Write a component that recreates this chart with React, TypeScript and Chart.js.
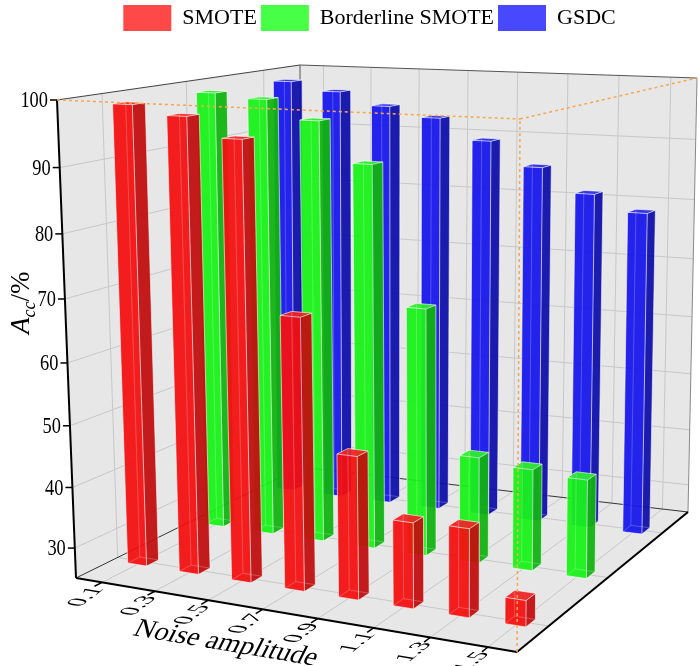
import React, { useEffect, useRef } from 'react';
import { Chart, registerables } from 'chart.js';

Chart.register(...registerables);

// ---------------- data ----------------
const categories = ['0.1', '0.3', '0.5', '0.7', '0.9', '1.1', '1.3', '1.5'];
const smoteValues = [98.7, 97.3, 94.3, 68.3, 47.8, 38.6, 38.9, 29.1];
const borderlineValues = [98.5, 97.8, 94.8, 88.4, 66.1, 42.7, 41.8, 41.2];
const gsdcValues = [98.4, 97.0, 94.9, 93.3, 89.9, 86.0, 82.1, 79.5];
const seriesLabels = ['SMOTE', 'Borderline SMOTE', 'GSDC'];
const yTickValues = [30, 40, 50, 60, 70, 80, 90, 100];
const Y_MIN = 25;
const Y_MAX = 100;
const xTitle = 'Noise amplitude';

// ---------------- styles / layout ----------------
const legendColors = ['rgb(255,72,72)', 'rgb(72,255,72)', 'rgb(72,72,255)'];
const faceColors = [
  { front: 'rgb(244,16,16)', side: 'rgb(192,14,14)', top: 'rgb(238,36,36)' },
  { front: 'rgb(24,242,24)', side: 'rgb(16,178,16)', top: 'rgb(44,238,44)' },
  { front: 'rgb(22,22,236)', side: 'rgb(14,14,170)', top: 'rgb(44,44,230)' },
];
const WALL = 'rgb(231,231,231)';
const GRID = 'rgb(200,200,200)';
const ORANGE = 'rgb(246,168,76)';
const SERIF = '"Liberation Serif", "Times New Roman", serif';

// projected corners of the plotting box: floor (value = min) and ceiling (value = max)
const BOX_BOTTOM = { fl: [76, 578], fr: [517, 652], bl: [301, 467], br: [688, 512] };
const BOX_TOP = { fl: [57, 100], fr: [520, 119], bl: [300, 65], br: [697, 78] };
const K_U = 1.06;
const K_V = 0.88;
const K_W = 1.07;
const BAR_DEPTH = 0.05;
const X_LABEL_ANGLE = -0.66;

type Pt = { x: number; y: number };

function warp(s: number, k: number) {
  return s / (s + (1 - s) * k);
}
function bilerp(q: any, u: number, v: number): Pt {
  const a = (1 - u) * (1 - v), b = u * (1 - v), c = (1 - u) * v, d = u * v;
  return {
    x: a * q.fl[0] + b * q.fr[0] + c * q.bl[0] + d * q.br[0],
    y: a * q.fl[1] + b * q.fr[1] + c * q.bl[1] + d * q.br[1],
  };
}
function project(u: number, v: number, w: number): Pt {
  const su = warp(u, K_U), sv = warp(v, K_V), sw = warp(w, K_W);
  const b = bilerp(BOX_BOTTOM, su, sv);
  const t = bilerp(BOX_TOP, su, sv);
  return { x: b.x + (t.x - b.x) * sw, y: b.y + (t.y - b.y) * sw };
}
function norm(a: Pt, b: Pt): Pt {
  const dx = b.x - a.x, dy = b.y - a.y;
  const l = Math.hypot(dx, dy) || 1;
  return { x: dx / l, y: dy / l };
}

function fillPoly(ctx: CanvasRenderingContext2D, pts: Pt[], color: string) {
  ctx.beginPath();
  pts.forEach((p, i) => (i ? ctx.lineTo(p.x, p.y) : ctx.moveTo(p.x, p.y)));
  ctx.closePath();
  ctx.fillStyle = color;
  ctx.fill();
}
function strokeLine(ctx: CanvasRenderingContext2D, a: Pt, b: Pt, color: string, lw = 1, dash: number[] = []) {
  ctx.beginPath();
  ctx.setLineDash(dash);
  ctx.moveTo(a.x, a.y);
  ctx.lineTo(b.x, b.y);
  ctx.strokeStyle = color;
  ctx.lineWidth = lw;
  ctx.stroke();
  ctx.setLineDash([]);
}

function drawBar(ctx: CanvasRenderingContext2D, u0: number, u1: number, v0: number, v1: number, w: number, col: any) {
  const a0 = project(u0, v0, 0), b0 = project(u1, v0, 0), c0 = project(u1, v1, 0), d0 = project(u0, v1, 0);
  const a1 = project(u0, v0, w), b1 = project(u1, v0, w), c1 = project(u1, v1, w), d1 = project(u0, v1, w);
  ctx.globalAlpha = 0.94;
  fillPoly(ctx, [a0, b0, b1, a1], col.front);
  fillPoly(ctx, [b0, c0, c1, b1], col.side);
  fillPoly(ctx, [a1, b1, c1, d1], col.top);
  ctx.globalAlpha = 1;
  const hid = 'rgba(255,255,255,0.22)';
  strokeLine(ctx, d0, d1, hid, 1);
  strokeLine(ctx, a0, d0, hid, 1);
  strokeLine(ctx, d0, c0, hid, 1);
  const vis = 'rgba(255,255,255,0.6)';
  strokeLine(ctx, a0, b0, vis, 1);
  strokeLine(ctx, b0, c0, vis, 1);
  strokeLine(ctx, a0, a1, vis, 1);
  strokeLine(ctx, b0, b1, vis, 1);
  strokeLine(ctx, c0, c1, vis, 1);
  strokeLine(ctx, a1, b1, vis, 1);
  strokeLine(ctx, b1, c1, vis, 1);
  strokeLine(ctx, c1, d1, vis, 1);
  strokeLine(ctx, d1, a1, vis, 1);
}

const scenePlugin = {
  id: 'scene3d',
  beforeDatasetsDraw(chart: any) {
    const ctx = chart.ctx as CanvasRenderingContext2D;
    const area = chart.chartArea;
    const xs = chart.scales.x;
    const ys = chart.scales.y;
    const span = ys.bottom - ys.top;
    const wOf = (val: number) => (ys.bottom - ys.getPixelForValue(val)) / span;
    const uOfIndex = (i: number) => (xs.getPixelForValue(i) - area.left) / area.width;
    const nSeries = chart.data.datasets.length;
    const vOf = (d: number) => (d + 0.5) / nSeries;
    const c = project;

    ctx.save();
    // walls and floor
    fillPoly(ctx, [c(0, 0, 0), c(1, 0, 0), c(1, 1, 0), c(0, 1, 0)], WALL);
    fillPoly(ctx, [c(0, 0, 0), c(0, 1, 0), c(0, 1, 1), c(0, 0, 1)], WALL);
    fillPoly(ctx, [c(0, 1, 0), c(1, 1, 0), c(1, 1, 1), c(0, 1, 1)], WALL);

    // grid lines
    yTickValues.forEach((val) => {
      if (val >= Y_MAX) return;
      const w = wOf(val);
      strokeLine(ctx, c(0, 0, w), c(0, 1, w), GRID, 1);
      strokeLine(ctx, c(0, 1, w), c(1, 1, w), GRID, 1);
    });
    categories.forEach((_, i) => {
      const u = uOfIndex(i);
      strokeLine(ctx, c(u, 0, 0), c(u, 1, 0), GRID, 1);
      strokeLine(ctx, c(u, 1, 0), c(u, 1, 1), GRID, 1);
    });
    for (let d = 0; d < nSeries; d++) {
      const v = vOf(d);
      strokeLine(ctx, c(0, v, 0), c(1, v, 0), GRID, 1);
      strokeLine(ctx, c(0, v, 0), c(0, v, 1), GRID, 1);
    }

    // box edges behind the bars
    strokeLine(ctx, c(0, 0, 0), c(0, 1, 0), '#333', 1);
    strokeLine(ctx, c(0, 1, 0), c(1, 1, 0), '#333', 1);
    strokeLine(ctx, c(0, 1, 0), c(0, 1, 1), '#555', 1);
    strokeLine(ctx, c(1, 1, 0), c(1, 1, 1), '#888', 1);
    strokeLine(ctx, c(0, 0, 1), c(0, 1, 1), '#444', 1.2);
    strokeLine(ctx, c(0, 1, 1), c(1, 1, 1), '#555', 1.2);

    // bars: back row first, left to right
    for (let d = nSeries - 1; d >= 0; d--) {
      const meta = chart.getDatasetMeta(d);
      const v = vOf(d);
      meta.data.forEach((el: any) => {
        const u = (el.x - area.left) / area.width;
        const du = el.width / area.width;
        const w = Math.max(0, Math.min(1, (ys.bottom - el.y) / span));
        drawBar(ctx, u - du / 2, u + du / 2, v - BAR_DEPTH / 2, v + BAR_DEPTH / 2, w, faceColors[d]);
      });
    }

    // axes
    strokeLine(ctx, c(0, 0, 0), c(1, 0, 0), '#000', 2);
    strokeLine(ctx, c(1, 0, 0), c(1, 1, 0), '#000', 2);
    strokeLine(ctx, c(0, 0, 0), c(0, 0, 1), '#000', 2);

    // y ticks + labels
    yTickValues.forEach((val) => {
      const q = c(0, 0, wOf(val));
      strokeLine(ctx, { x: q.x - 7, y: q.y }, q, '#000', 1.5);
      ctx.save();
      ctx.translate(q.x - 9, q.y + 1);
      ctx.scale(0.8, 1);
      ctx.font = `23px ${SERIF}`;
      ctx.textAlign = 'right';
      ctx.textBaseline = 'middle';
      ctx.fillStyle = '#000';
      ctx.fillText(String(val), 0, 0);
      ctx.restore();
    });

    // x ticks + labels (lying on the floor plane)
    const dirU = norm(c(0, 0, 0), c(1, 0, 0));
    const base = { x: Math.cos(X_LABEL_ANGLE), y: Math.sin(X_LABEL_ANGLE) };
    categories.forEach((lab, i) => {
      const u = uOfIndex(i);
      const p0 = c(u, 0, 0);
      strokeLine(ctx, p0, c(u, -0.03, 0), '#000', 1.5);
      const anchor = { x: p0.x - 4, y: p0.y + 5 };
      ctx.save();
      ctx.translate(anchor.x, anchor.y);
      ctx.transform(base.x * 1.12, base.y * 1.12, dirU.x * 1.1, dirU.y * 1.1, 0, 0);
      ctx.font = `22px ${SERIF}`;
      ctx.fillStyle = '#000';
      ctx.textAlign = 'right';
      ctx.textBaseline = 'middle';
      ctx.fillText(lab, 0, 0);
      ctx.restore();
    });

    // x title
    const tAnchor = c(0.47, -0.2, 0);
    ctx.save();
    ctx.translate(tAnchor.x - 4, tAnchor.y + 3);
    ctx.transform(dirU.x, dirU.y, -0.45, 0.89, 0, 0);
    ctx.font = `28px ${SERIF}`;
    ctx.fillStyle = '#000';
    ctx.textAlign = 'center';
    ctx.textBaseline = 'middle';
    ctx.fillText(xTitle, 0, 0);
    ctx.restore();

    // y title: A_cc/%
    const yTop = c(0, 0, 1), yBot = c(0, 0, 0);
    ctx.save();
    ctx.translate(yTop.x - 28, (yTop.y + yBot.y) / 2 - 5);
    ctx.rotate(-Math.PI / 2);
    ctx.textAlign = 'left';
    ctx.textBaseline = 'alphabetic';
    ctx.fillStyle = '#000';
    ctx.font = `italic 27px ${SERIF}`;
    ctx.fillText('A', 0, 0);
    let off = ctx.measureText('A').width;
    ctx.font = `italic 18px ${SERIF}`;
    ctx.fillText('cc', off, 6);
    off += ctx.measureText('cc').width;
    ctx.font = `27px ${SERIF}`;
    ctx.fillText('/%', off, 0);
    ctx.restore();

    // orange dashed cursor lines
    strokeLine(ctx, c(0, 0, 1), c(1, 0, 1), ORANGE, 1.5, [3, 3]);
    strokeLine(ctx, c(1, 0, 1), c(1, 1, 1), ORANGE, 1.5, [3, 3]);
    strokeLine(ctx, c(1, 0, 0), c(1, 0, 1), ORANGE, 1.5, [3, 3]);

    ctx.restore();
    return false;
  },
};

export default function App() {
  const ref = useRef<HTMLCanvasElement>(null);
  useEffect(() => {
    const seriesValues = [smoteValues, borderlineValues, gsdcValues];
    const chart = new Chart(ref.current as HTMLCanvasElement, {
      type: 'bar',
      data: {
        labels: categories,
        datasets: seriesLabels.map((label, i) => ({
          label,
          data: seriesValues[i],
          backgroundColor: legendColors[i],
          borderWidth: 0,
        })),
      },
      options: {
        responsive: false,
        animation: false,
        layout: { padding: { left: 40, top: 1, right: 0, bottom: 0 } },
        datasets: { bar: { grouped: false, barPercentage: 0.4, categoryPercentage: 0.92 } } as any,
        scales: {
          x: { display: false, offset: true },
          y: { display: false, min: Y_MIN, max: Y_MAX },
        },
        plugins: {
          tooltip: { enabled: false },
          legend: {
            position: 'top',
            labels: {
              boxWidth: 48,
              boxHeight: 26,
              padding: 4,
              color: '#000',
              font: { family: 'Liberation Serif', size: 22 },
              generateLabels: (ch: any) =>
                ch.data.datasets.map((ds: any, i: number) => ({
                  text: ds.label,
                  fillStyle: legendColors[i],
                  strokeStyle: legendColors[i],
                  lineWidth: 0,
                  fontColor: '#000',
                  hidden: false,
                  datasetIndex: i,
                })),
            },
          },
        },
      },
      plugins: [scenePlugin],
    } as any);
    return () => chart.destroy();
  }, []);
  return (
    <div style={{ position: 'fixed', left: 0, top: 0, width: 699, height: 666, background: '#fff' }}>
      <canvas ref={ref} width={699} height={666} style={{ display: 'block', width: 699, height: 666 }} />
    </div>
  );
}
